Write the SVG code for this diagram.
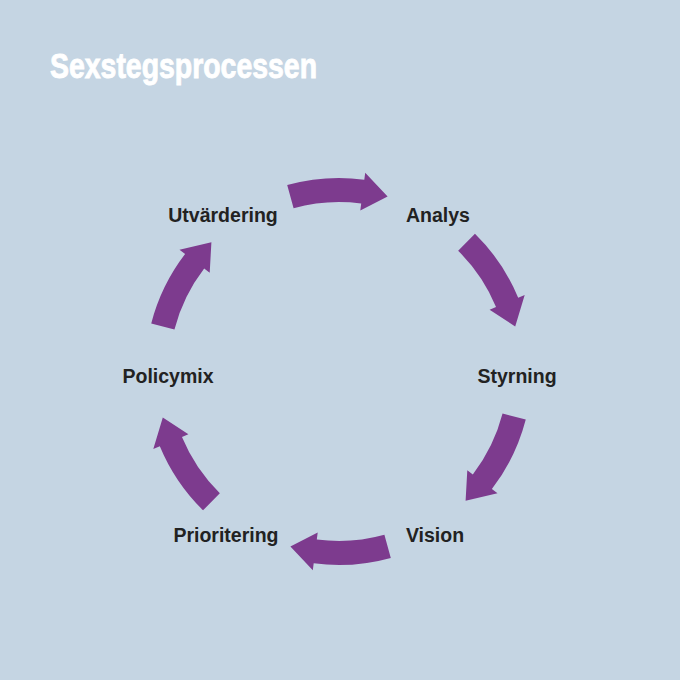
<svg xmlns="http://www.w3.org/2000/svg" xmlns:xlink="http://www.w3.org/1999/xlink" width="680" height="680" viewBox="0 0 680 680">
<style>
.title{font-family:"Liberation Sans Narrow","Liberation Sans",Arial,sans-serif;font-weight:bold;font-size:35px;fill:#ffffff;stroke:#ffffff;stroke-width:0.9px}
.lbl{font-family:"Liberation Sans",Arial,sans-serif;font-weight:bold;font-size:19.5px;fill:#222222;text-anchor:middle}
.arr{fill:#7d3b8e}
</style>
<defs>
<path id="arc" d="M -51.8 -186.9 A 194 194 0 0 1 25.3 -192.3 L 26.2 -199.3 L 48.6 -175.4 L 21.3 -161.6 L 22.2 -168.5 A 170 170 0 0 0 -45.4 -163.8 Z"/>
</defs>
<rect width="680" height="680" fill="#c5d5e3"/>
<text class="title" x="50" y="78" textLength="267" lengthAdjust="spacingAndGlyphs">Sexstegsprocessen</text>
<g id="connectors" class="arr">
<use xlink:href="#arc" transform="translate(339 372) rotate(0)"/>
<use xlink:href="#arc" transform="translate(339 372) rotate(60)"/>
<use xlink:href="#arc" transform="translate(338 371) rotate(120)"/>
<use xlink:href="#arc" transform="translate(339 371) rotate(180)"/>
<use xlink:href="#arc" transform="translate(339 372) rotate(240)"/>
<use xlink:href="#arc" transform="translate(339 372) rotate(300)"/>
</g>
<g id="analys"><text class="lbl" x="438" y="222">Analys</text></g>
<g id="styrning"><text class="lbl" x="517" y="383">Styrning</text></g>
<g id="vision"><text class="lbl" x="435" y="542">Vision</text></g>
<g id="prioritering"><text class="lbl" x="226" y="542">Prioritering</text></g>
<g id="policymix"><text class="lbl" x="168" y="383">Policymix</text></g>
<g id="utvardering"><text class="lbl" x="223" y="222">Utvärdering</text></g>
</svg>
